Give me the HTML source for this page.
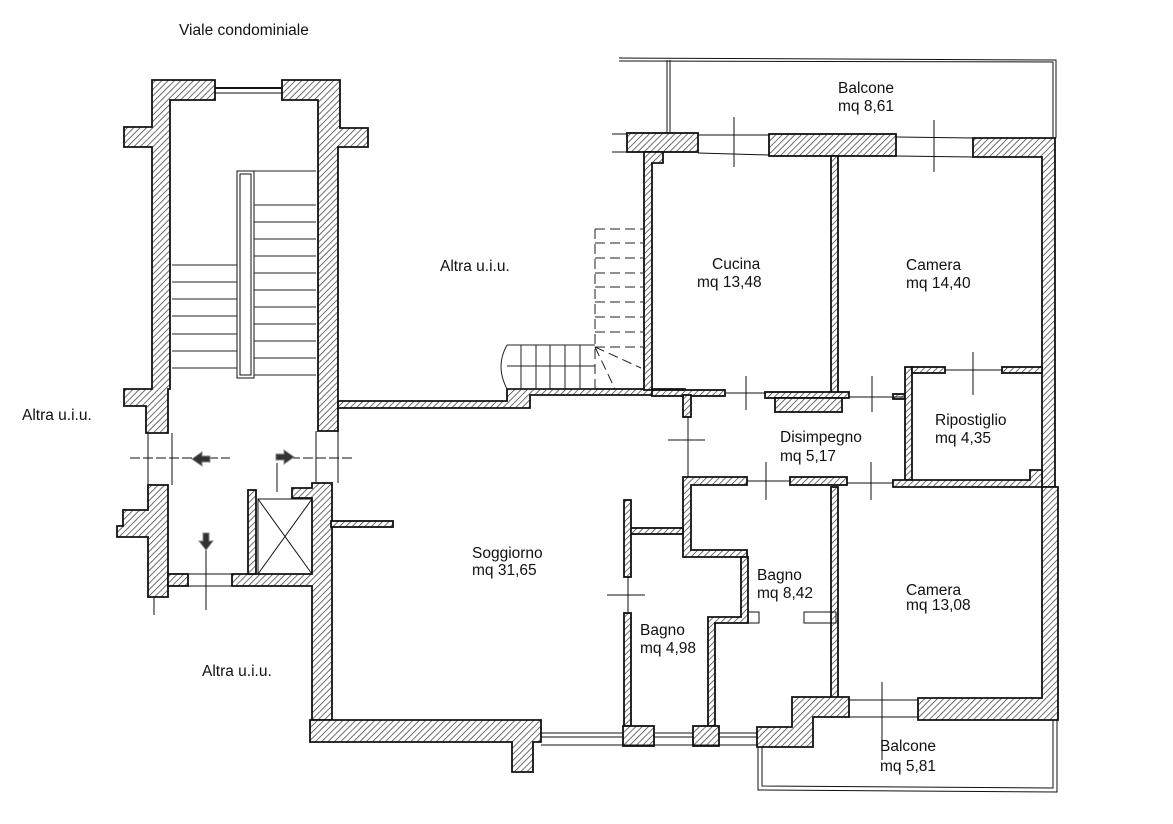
<!DOCTYPE html>
<html><head><meta charset="utf-8"><style>
html,body{margin:0;padding:0;background:#fff;}
svg{display:block;}
text{font-family:"Liberation Sans",sans-serif;font-size:15.5px;fill:#111;}
</style></head><body>
<svg width="1173" height="824" viewBox="0 0 1173 824" xmlns="http://www.w3.org/2000/svg">
<defs>
<pattern id="h" patternUnits="userSpaceOnUse" width="4.5" height="4.5" patternTransform="rotate(45)">
<rect width="5" height="5" fill="#fff"/><line x1="0" y1="0" x2="0" y2="5" stroke="#333" stroke-width="1.4"/>
</pattern>
</defs>
<g fill="url(#h)" stroke="#111" stroke-width="1.8">
<!-- stairwell -->
<polygon points="152,80 215,80 215,100 170,100 170,389 168,389 168,433 146,433 146,406 124,406 124,389 152,389 152,147 124,147 124,127 152,127"/>
<polygon points="282,80 340,80 340,128 368,128 368,147 338,147 338,431 318,431 318,100 282,100"/>
<polygon points="148,485 168,485 168,597 148,597 148,537 117,537 117,526 123,526 123,510 148,510"/>
<rect x="168" y="574" width="20" height="12"/>
<polygon points="312,483 332,483 332,720 312,720 312,586 232,586 232,574 312,574 312,498 292,498 292,488 312,488"/>
<rect x="248" y="490" width="8" height="84"/>
<!-- floor wall to kitchen -->
<polygon points="338,401 507,401 507,389 685,389 685,395 530,395 530,408 338,408"/>
<!-- top walls -->
<rect x="627" y="133" width="71" height="19"/>
<polygon points="644,152 663,152 663,163 652,163 652,390 644,390"/>
<rect x="769" y="134" width="127" height="22"/>
<polygon points="973,138 1055,138 1055,487 1042,487 1042,157 973,157"/>
<rect x="831" y="156" width="7" height="237"/>
<!-- kitchen bottom / disimpegno -->
<rect x="652" y="390" width="73" height="6"/>
<rect x="765" y="392" width="84" height="6"/>
<rect x="775" y="398" width="67" height="14"/>
<rect x="893" y="394" width="12" height="5"/>
<rect x="683" y="395" width="8" height="22"/>
<rect x="905" y="367" width="7" height="113"/>
<rect x="912" y="367" width="33" height="6"/>
<rect x="1002" y="367" width="40" height="6"/>
<polygon points="893,480 1030,480 1030,470 1042,470 1042,487 893,487"/>
<polygon points="683,477 747,477 747,485 691,485 691,550 747,550 747,557 683,557"/>
<rect x="790" y="477" width="57" height="8"/>
<!-- bagni -->
<polygon points="741,557 748,557 748,623 715,623 715,726 708,726 708,617 741,617"/>
<rect x="629" y="528" width="54" height="6"/>
<rect x="624" y="500" width="7" height="77"/>
<rect x="624" y="613" width="7" height="113"/>
<rect x="831" y="487" width="7" height="211"/>
<!-- camera bottom right -->
<polygon points="1042,487 1058,487 1058,720 918,720 918,698 1042,698"/>
<!-- bottom walls -->
<polygon points="310,720 541,720 541,742 533,742 533,772 512,772 512,742 310,742"/>
<rect x="623" y="726" width="31" height="20"/>
<rect x="693" y="726" width="26" height="20"/>
<polygon points="792,697 849,697 849,717 813,717 813,747 757,747 757,727 792,727"/>
<rect x="331" y="521" width="62" height="6"/>
</g>
<g fill="none" stroke="#111" stroke-width="1">
<line x1="215" y1="88" x2="282" y2="88" stroke-width="2"/><line x1="215" y1="93" x2="282" y2="93"/>
<line x1="541" y1="733" x2="623" y2="733"/><line x1="541" y1="737" x2="623" y2="737"/><line x1="541" y1="745" x2="757" y2="745"/>
<line x1="654" y1="733" x2="693" y2="733"/><line x1="654" y1="737" x2="693" y2="737"/>
<line x1="719" y1="733" x2="757" y2="733"/><line x1="719" y1="737" x2="757" y2="737"/>
<polyline points="619,58 1056,60 1056,138"/><polyline points="619,61 1053,62 1053,138"/>
<line x1="667" y1="60" x2="667" y2="133"/><line x1="670" y1="60" x2="670" y2="133"/>
<line x1="612" y1="134" x2="627" y2="134"/><line x1="698" y1="135" x2="769" y2="135"/><line x1="896" y1="137" x2="973" y2="138"/>
<line x1="612" y1="152" x2="627" y2="152"/><line x1="698" y1="153" x2="769" y2="155"/><line x1="896" y1="156" x2="973" y2="157"/>
<polyline points="758,747 758,790 1057,792 1057,720"/><polyline points="762,747 762,786 1053,788 1053,720"/>
<line x1="849" y1="700" x2="918" y2="700"/><line x1="849" y1="717" x2="918" y2="717"/>
<rect x="258" y="499" width="54" height="75"/>
<line x1="258" y1="499" x2="312" y2="574"/><line x1="312" y1="499" x2="258" y2="574"/>
<rect x="237" y="171" width="17" height="207"/><rect x="240" y="174" width="11" height="201"/>
<line x1="172" y1="433" x2="172" y2="485"/><line x1="148" y1="433" x2="148" y2="485"/>
<line x1="316" y1="431" x2="316" y2="483"/><line x1="338" y1="431" x2="338" y2="483"/>
<line x1="168" y1="586" x2="232" y2="586"/><line x1="188" y1="574" x2="232" y2="574"/>
<line x1="154" y1="597" x2="154" y2="615"/>
<line x1="130" y1="458" x2="230" y2="458" stroke-dasharray="10,3"/><line x1="290" y1="458" x2="352" y2="458" stroke-dasharray="10,3"/>
<line x1="277" y1="463" x2="277" y2="492"/><line x1="206" y1="548" x2="206" y2="610"/>
<line x1="734" y1="117" x2="734" y2="167"/><line x1="934" y1="120" x2="934" y2="172"/>
<line x1="973" y1="352" x2="973" y2="395"/><line x1="746" y1="376" x2="746" y2="410"/>
<line x1="872" y1="376" x2="872" y2="412"/><line x1="668" y1="440" x2="705" y2="440"/>
<line x1="766" y1="462" x2="766" y2="500"/><line x1="871" y1="462" x2="871" y2="500"/>
<line x1="688" y1="417" x2="688" y2="477"/><line x1="607" y1="595" x2="645" y2="595"/>
<line x1="628" y1="577" x2="628" y2="613"/><line x1="882" y1="682" x2="882" y2="760"/>
<line x1="725" y1="393" x2="765" y2="393"/><line x1="849" y1="397" x2="905" y2="397"/>
<line x1="945" y1="370" x2="1002" y2="370"/><line x1="747" y1="481" x2="790" y2="481"/><line x1="847" y1="483" x2="893" y2="483"/>
<rect x="748" y="612" width="11" height="11"/><rect x="804" y="612" width="32" height="11"/>
</g>
<g stroke="#222" stroke-width="1">
<line x1="254" y1="171" x2="316" y2="171"/><line x1="254" y1="205" x2="316" y2="205"/><line x1="254" y1="222" x2="316" y2="222"/><line x1="254" y1="239" x2="316" y2="239"/><line x1="254" y1="256" x2="316" y2="256"/><line x1="254" y1="273" x2="316" y2="273"/><line x1="254" y1="290" x2="316" y2="290"/><line x1="254" y1="307" x2="316" y2="307"/><line x1="254" y1="324" x2="316" y2="324"/><line x1="254" y1="341" x2="316" y2="341"/><line x1="254" y1="358" x2="316" y2="358"/><line x1="254" y1="375" x2="316" y2="375"/>
<line x1="172" y1="265" x2="237" y2="265"/><line x1="172" y1="282" x2="237" y2="282"/><line x1="172" y1="299" x2="237" y2="299"/><line x1="172" y1="316" x2="237" y2="316"/><line x1="172" y1="334" x2="237" y2="334"/><line x1="172" y1="351" x2="237" y2="351"/><line x1="172" y1="368" x2="237" y2="368"/>
</g>
<g stroke="#222" stroke-width="1" fill="none">
<g stroke-dasharray="10,5">
<line x1="595" y1="229" x2="643" y2="229"/><line x1="595" y1="243" x2="643" y2="243"/><line x1="595" y1="258" x2="643" y2="258"/><line x1="595" y1="273" x2="643" y2="273"/><line x1="595" y1="287" x2="643" y2="287"/><line x1="595" y1="302" x2="643" y2="302"/><line x1="595" y1="317" x2="643" y2="317"/><line x1="595" y1="332" x2="643" y2="332"/><line x1="595" y1="347" x2="643" y2="347"/>
<line x1="595" y1="229" x2="595" y2="389"/><line x1="595" y1="347" x2="641" y2="368"/><line x1="595" y1="347" x2="615" y2="389"/>
</g>
<path d="M507,345 L595,345 M507,366 L595,366 M507,389 L595,389 M507,345 Q495,366 507,389"/>
<line x1="521" y1="345" x2="521" y2="389"/><line x1="536" y1="345" x2="536" y2="389"/><line x1="550" y1="345" x2="550" y2="389"/><line x1="565" y1="345" x2="565" y2="389"/><line x1="580" y1="345" x2="580" y2="389"/>
</g>
<g fill="#333" stroke="#888" stroke-width="1">
<polygon points="192,459 202,452 202,456 210,456 210,462 202,462 202,466"/>
<polygon points="294,457 284,450 284,454 276,454 276,460 284,460 284,464"/>
<polygon points="206,550 199,541 203,541 203,533 209,533 209,541 213,541"/>
</g>
<text x="179" y="35">Viale condominiale</text>
<text x="440" y="271">Altra u.i.u.</text>
<text x="22" y="420">Altra u.i.u.</text>
<text x="202" y="676">Altra u.i.u.</text>
<text x="838" y="93">Balcone</text><text x="838" y="111">mq 8,61</text>
<text x="712" y="269">Cucina</text><text x="697" y="287">mq 13,48</text>
<text x="906" y="270">Camera</text><text x="906" y="288">mq 14,40</text>
<text x="935" y="425">Ripostiglio</text><text x="935" y="443">mq 4,35</text>
<text x="780" y="442">Disimpegno</text><text x="780" y="461">mq 5,17</text>
<text x="472" y="558">Soggiorno</text><text x="472" y="575">mq 31,65</text>
<text x="757" y="580">Bagno</text><text x="757" y="598">mq 8,42</text>
<text x="906" y="595">Camera</text><text x="906" y="610">mq 13,08</text>
<text x="640" y="635">Bagno</text><text x="640" y="653">mq 4,98</text>
<text x="880" y="751">Balcone</text><text x="880" y="771">mq 5,81</text>
</svg>
</body></html>
